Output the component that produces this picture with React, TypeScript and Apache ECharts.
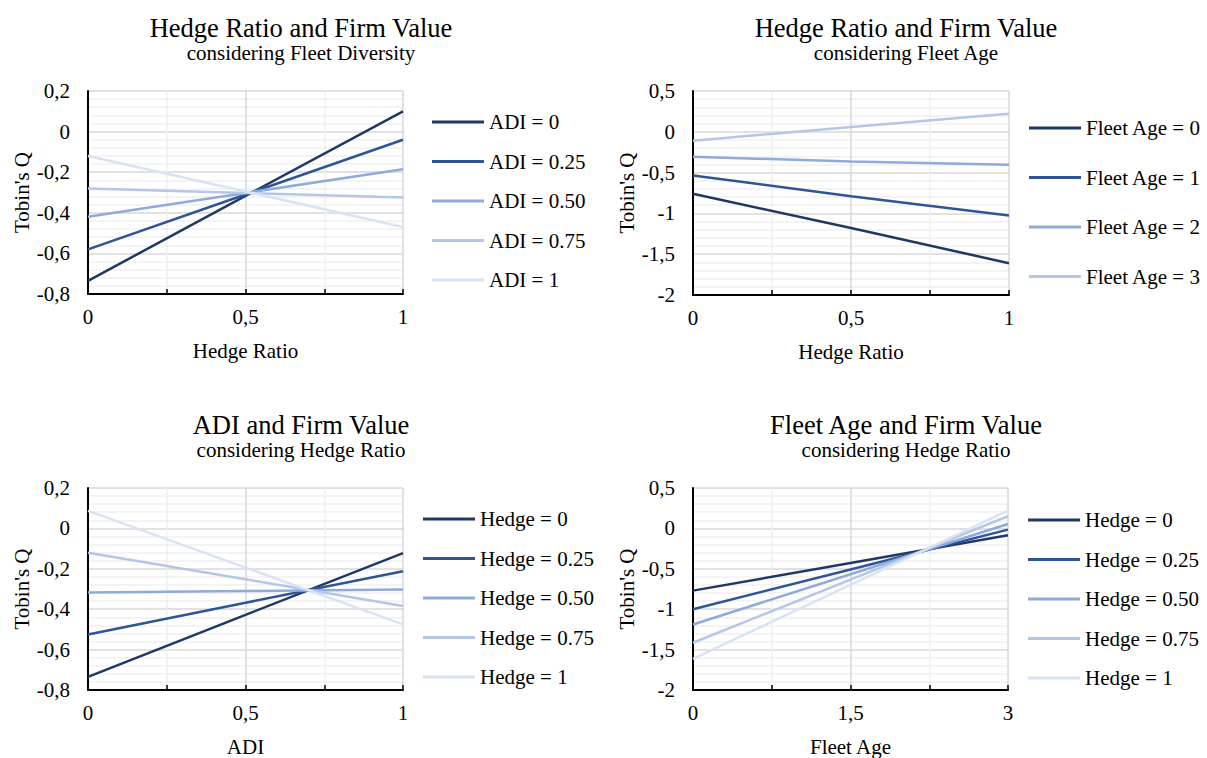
import React, { useEffect, useRef } from "react";
import * as echarts from "echarts";

const FONT = '"Liberation Serif", "Times New Roman", serif';

// ---- data ----
const hedgeX = [0, 0.5, 1];
const adiX = [0, 0.5, 1];
const ageX = [0, 1.5, 3];

const adiNames = ["ADI = 0", "ADI = 0.25", "ADI = 0.50", "ADI = 0.75", "ADI = 1"];
const adiValues = [
  [-0.735, -0.317, 0.1],
  [-0.58, -0.31, -0.04],
  [-0.42, -0.302, -0.185],
  [-0.28, -0.302, -0.325],
  [-0.12, -0.295, -0.47],
];

const ageNames = ["Fleet Age = 0", "Fleet Age = 1", "Fleet Age = 2", "Fleet Age = 3"];
const ageValues = [
  [-0.76, -1.18, -1.61],
  [-0.535, -0.79, -1.025],
  [-0.305, -0.365, -0.405],
  [-0.11, 0.06, 0.22],
];

const hedgeNames = ["Hedge = 0", "Hedge = 0.25", "Hedge = 0.50", "Hedge = 0.75", "Hedge = 1"];
const hedgeByAdiValues = [
  [-0.735, -0.428, -0.122],
  [-0.525, -0.368, -0.212],
  [-0.317, -0.31, -0.303],
  [-0.121, -0.252, -0.384],
  [0.087, -0.194, -0.475],
];
const hedgeByAgeValues = [
  [-0.77, -0.428, -0.085],
  [-1.0, -0.508, -0.015],
  [-1.19, -0.568, 0.055],
  [-1.415, -0.633, 0.15],
  [-1.615, -0.698, 0.22],
];

const COLORS = ["#203864", "#2f5597", "#8faadc", "#b4c7e7", "#dae3f3"];

const fmt = (v: number) => {
  const r = Math.round(v * 10) / 10;
  return String(r).replace(".", ",");
};

function App() {
  const ref = useRef<HTMLDivElement>(null);
  useEffect(() => {
    if (!ref.current) return;
    const chart = echarts.init(ref.current, null, { renderer: "svg" });

    const grids = [
      { left: 88, top: 91, width: 315, height: 203 },
      { left: 693, top: 91, width: 316, height: 204 },
      { left: 88, top: 488, width: 315, height: 204 },
      { left: 693, top: 488, width: 315, height: 204 },
    ];

    const xCfg = [
      { min: 0, max: 1, interval: 0.5, name: "Hedge Ratio" },
      { min: 0, max: 1, interval: 0.5, name: "Hedge Ratio" },
      { min: 0, max: 1, interval: 0.5, name: "ADI" },
      { min: 0, max: 3, interval: 1.5, name: "Fleet Age" },
    ];
    const yCfg = [
      { min: -0.8, max: 0.2, interval: 0.2 },
      { min: -2, max: 0.5, interval: 0.5 },
      { min: -0.8, max: 0.2, interval: 0.2 },
      { min: -2, max: 0.5, interval: 0.5 },
    ];

    const xAxis = xCfg.map((c, i) => ({
      type: "value",
      gridIndex: i,
      min: c.min,
      max: c.max,
      interval: c.interval,
      name: c.name,
      nameLocation: "middle",
      nameGap: 46,
      nameTextStyle: { fontFamily: FONT, fontSize: 21, color: "#000" },
      axisLine: { show: true, onZero: false, lineStyle: { color: "#000", width: 2 } },
      axisTick: { show: true, inside: true, length: 5, lineStyle: { color: "#000", width: 1.5 } },
      minorTick: { show: true, splitNumber: 2, length: 5, lineStyle: { color: "#000", width: 1.5 } },
      axisLabel: { fontFamily: FONT, fontSize: 21, color: "#000", margin: 12, formatter: fmt },
      splitLine: { show: true, lineStyle: { color: "#d9d9d9", width: 1.5 } },
      minorSplitLine: { show: true, lineStyle: { color: "#f0f0f0", width: 1.5 } },
    }));

    const yAxis = yCfg.map((c, i) => ({
      type: "value",
      gridIndex: i,
      min: c.min,
      max: c.max,
      interval: c.interval,
      name: "Tobin's Q",
      nameLocation: "middle",
      nameGap: 55,
      nameTextStyle: { fontFamily: FONT, fontSize: 21, color: "#000" },
      axisLine: { show: true, onZero: false, lineStyle: { color: "#000", width: 2 } },
      axisTick: { show: false },
      minorTick: { show: false, splitNumber: 5 },
      axisLabel: { fontFamily: FONT, fontSize: 21, color: "#000", margin: 18, formatter: fmt },
      splitLine: { show: true, lineStyle: { color: "#d9d9d9", width: 1.5 } },
      minorSplitLine: { show: true, lineStyle: { color: "#f0f0f0", width: 1.5 } },
    }));

    const series: any[] = [];
    const addSeries = (names: string[], values: number[][], xs: number[], idx: number) => {
      names.forEach((n, k) => {
        series.push({
          type: "line",
          name: n,
          xAxisIndex: idx,
          yAxisIndex: idx,
          data: xs.map((x, j) => [x, values[k][j]]),
          smooth: true,
          symbol: "none",
          showSymbol: false,
          color: COLORS[k],
          lineStyle: { color: COLORS[k], width: 2.5 },
        });
      });
    };
    addSeries(adiNames, adiValues, hedgeX, 0);
    addSeries(ageNames, ageValues, hedgeX, 1);
    addSeries(hedgeNames, hedgeByAdiValues, adiX, 2);
    addSeries(hedgeNames, hedgeByAgeValues, ageX, 3);

    const legendBase = {
      orient: "vertical",
      icon: "rect",
      itemWidth: 52,
      itemHeight: 3,
      padding: 0,
      textStyle: { fontFamily: FONT, fontSize: 21, color: "#000" },
    };

    const legend = [
      { ...legendBase, data: adiNames, left: 432, top: 111.5, itemGap: 18.5 },
      { ...legendBase, data: ageNames, left: 1029, top: 117.5, itemGap: 28.5 },
      { ...legendBase, data: hedgeNames, left: 423, top: 508.5, itemGap: 18.5 },
      { ...legendBase, data: hedgeNames, left: 1028, top: 509.5, itemGap: 18.5 },
    ];

    const titleBase = {
      textAlign: "center",
      padding: 0,
      itemGap: 1,
      textStyle: { fontFamily: FONT, fontSize: 26.5, fontWeight: "normal", color: "#000" },
      subtextStyle: { fontFamily: FONT, fontSize: 21, color: "#000" },
    };
    const title = [
      { ...titleBase, text: "Hedge Ratio and Firm Value", subtext: "considering Fleet Diversity", left: 301, top: 14 },
      { ...titleBase, text: "Hedge Ratio and Firm Value", subtext: "considering Fleet Age", left: 906, top: 14 },
      { ...titleBase, text: "ADI and Firm Value", subtext: "considering Hedge Ratio", left: 301, top: 411 },
      { ...titleBase, text: "Fleet Age and Firm Value", subtext: "considering Hedge Ratio", left: 906, top: 411 },
    ];

    chart.setOption({
      animation: false,
      backgroundColor: "#fff",
      title,
      legend,
      grid: grids,
      xAxis,
      yAxis,
      series,
    });
    return () => chart.dispose();
  }, []);

  return (
    <div
      ref={ref}
      style={{ position: "fixed", left: 0, top: 0, width: 1207, height: 758, background: "#fff" }}
    />
  );
}

export default App;
